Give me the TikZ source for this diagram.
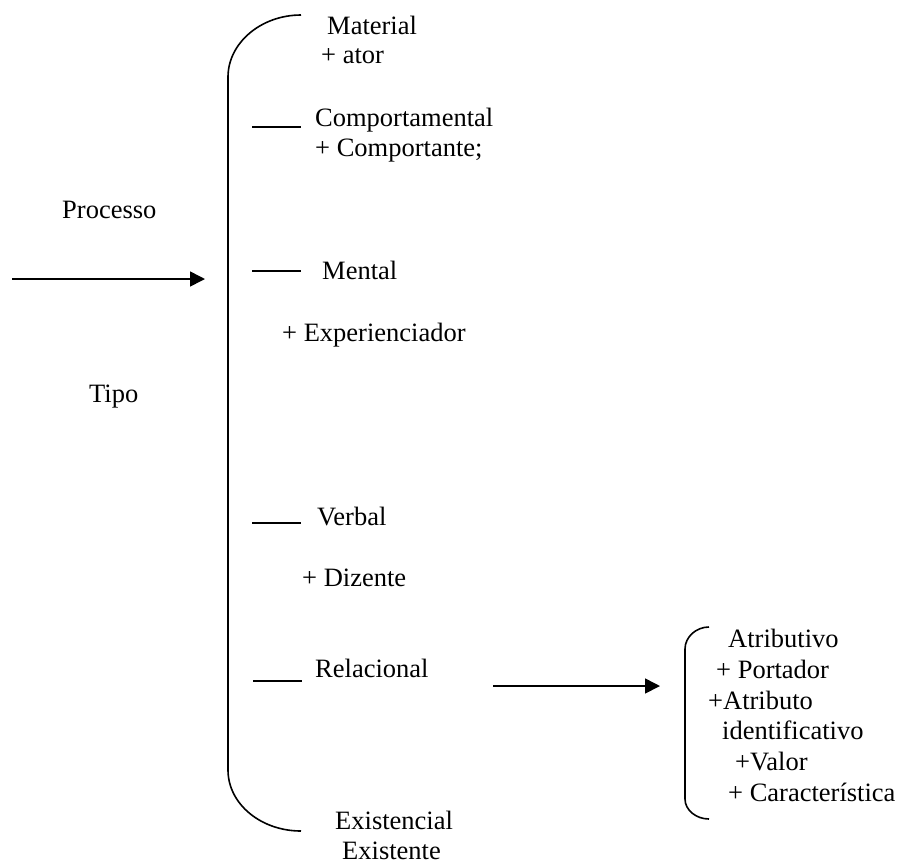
\documentclass[tikz,border=0pt]{standalone}
\usepackage{fontspec}
\setmainfont{Liberation Serif}
\usetikzlibrary{arrows.meta}
\tikzset{
  lbl/.style={anchor=base west, inner sep=0pt, font=\fontsize{26.5}{30}\selectfont},
  ln/.style={line width=1.6pt},
  arr/.style={line width=1.6pt, -{Triangle[length=15pt,width=15pt]}}
}
\begin{document}
\begin{tikzpicture}[x=1pt,y=-1pt]
\useasboundingbox (0,0) rectangle (899,863);
% texts
\node[lbl] (material) at (327,34) {Material};
\node[lbl] (ator) at (321,63) {+ ator};
\node[lbl] (comp) at (315,126) {Comportamental};
\node[lbl] (compte) at (315,156) {+ Comportante;};
\node[lbl] (processo) at (62,218) {Processo};
\node[lbl] (mental) at (322,279) {Mental};
\node[lbl] (exper) at (282,341) {+ Experienciador};
\node[lbl] (tipo) at (89,402) {Tipo};
\node[lbl] (verbal) at (317,525) {Verbal};
\node[lbl] (dizente) at (302,586) {+ Dizente};
\node[lbl] (relac) at (315,677) {Relacional};
\node[lbl] (existencial) at (335,829) {Existencial};
\node[lbl] (existente) at (342,859) {Existente};
\node[lbl] (atrib) at (728,647) {Atributivo};
\node[lbl] (portador) at (716,678) {+ Portador};
\node[lbl] (atributo) at (708,709) {+Atributo};
\node[lbl] (ident) at (722,739) {identificativo};
\node[lbl] (valor) at (735,770) {+Valor};
\node[lbl] (carac) at (728,801) {+ Característica};
% coordinates
\coordinate (a1s) at (12,279);
\coordinate (a1e) at (205,279);
\coordinate (a2s) at (493,686);
\coordinate (a2e) at (660,686);
\coordinate (bt) at (301,15);
\coordinate (bb) at (301,831);
\coordinate (st) at (709,627);
\coordinate (sb) at (709,819);
% arrows
\draw[arr] (a1s) -- (a1e);
\draw[arr] (a2s) -- (a2e);
% big bracket
\draw[ln] (bt) .. controls (261,15) and (228,43) .. (228,77) -- (228,770)
  .. controls (228,804) and (261,831) .. (bb);
% small bracket
\draw[ln] (st) .. controls (696,627) and (685,637) .. (685,649) -- (685,799)
  .. controls (685,810) and (696,819) .. (sb);
% dashes
\coordinate (d1a) at (252,127); \coordinate (d1b) at (301,127);
\coordinate (d2a) at (252,271); \coordinate (d2b) at (301,271);
\coordinate (d3a) at (252,523); \coordinate (d3b) at (301,523);
\coordinate (d4a) at (253,681); \coordinate (d4b) at (302,681);
\draw[ln] (d1a) -- (d1b);
\draw[ln] (d2a) -- (d2b);
\draw[ln] (d3a) -- (d3b);
\draw[ln] (d4a) -- (d4b);
\end{tikzpicture}
\end{document}
